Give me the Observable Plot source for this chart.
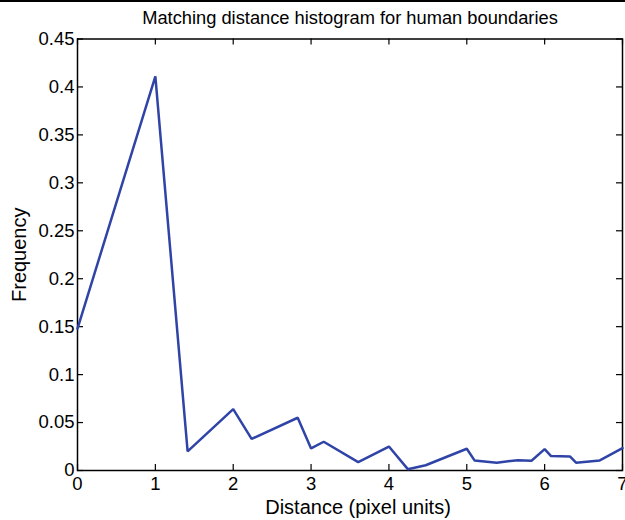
<!DOCTYPE html>
<html><head><meta charset="utf-8">
<script src="https://cdn.jsdelivr.net/npm/d3@7"></script>
<script src="https://cdn.jsdelivr.net/npm/@observablehq/plot@0.6"></script>
<style>
body{margin:0;background:#fff;}
#wrap{position:relative;width:625px;height:520px;}
#topline{position:absolute;left:0;top:0;width:625px;height:2px;background:#000;}
#wrap svg{position:absolute;left:0;top:0;}
</style></head><body><div id="wrap"><div id="topline"></div></div>
<script>
const distance = [0, 1, 1.4142, 2, 2.2361, 2.8284, 3, 3.1623, 3.6056, 4, 4.2426, 4.4721, 5, 5.0990, 5.3852, 5.6569, 5.8310, 6, 6.0828, 6.3246, 6.4031, 6.7082, 7];
const frequency = [0.148, 0.411, 0.020, 0.064, 0.033, 0.055, 0.023, 0.030, 0.0087, 0.025, 0.0014, 0.0055, 0.0227, 0.0105, 0.0081, 0.0108, 0.0102, 0.0223, 0.0150, 0.0147, 0.0081, 0.0105, 0.0233];
const xTicks = [0, 1, 2, 3, 4, 5, 6, 7];
const yTicks = [0, 0.05, 0.1, 0.15, 0.2, 0.25, 0.3, 0.35, 0.4, 0.45];
const yTickLabels = ["0", "0.05", "0.1", "0.15", "0.2", "0.25", "0.3", "0.35", "0.4", "0.45"];
const titleText = "Matching distance histogram for human boundaries";
const xLabel = "Distance (pixel units)";
const yLabel = "Frequency";

const data = distance.map((d, i) => ({distance: d, frequency: frequency[i]}));
const font = "'Liberation Sans', Arial, Helvetica, sans-serif";

const W = 625, H = 520, mL = 77, mR = 3, mT = 38.5, mB = 50, tick = 6;
const innerW = W - mL - mR, innerH = H - mT - mB;

const chart = Plot.plot({
  width: W,
  height: H,
  marginLeft: mL,
  marginRight: mR,
  marginTop: mT,
  marginBottom: mB,
  style: {fontFamily: font, fontSize: "18px", color: "#000", background: "transparent", overflow: "visible"},
  x: {domain: [0, 7]},
  y: {domain: [0, 0.45]},
  marks: [
    Plot.frame({stroke: "#000", strokeWidth: 1.5}),
    Plot.axisX({anchor: "bottom", ticks: xTicks, tickSize: 0, tickPadding: 6, label: null, fontSize: 18.5, tickFormat: d => String(d)}),
    Plot.axisY({anchor: "left", ticks: yTicks, tickSize: 0, tickPadding: 3, label: null, fontSize: 18.5, tickFormat: d => yTickLabels[yTicks.indexOf(d)]}),
    Plot.tickX(xTicks, {x: d => d, insetTop: innerH - tick, stroke: "#000", strokeWidth: 1.2}),
    Plot.tickX(xTicks, {x: d => d, insetBottom: innerH - tick, stroke: "#000", strokeWidth: 1.2}),
    Plot.tickY(yTicks, {y: d => d, insetRight: innerW - tick, stroke: "#000", strokeWidth: 1.2}),
    Plot.tickY(yTicks, {y: d => d, insetLeft: innerW - tick, stroke: "#000", strokeWidth: 1.2}),
    Plot.line(data, {x: "distance", y: "frequency", stroke: "#2f44a6", strokeWidth: 2.5, strokeLinejoin: "miter"}),
    Plot.text([titleText], {frameAnchor: "top", dy: -20.5, fontSize: 18.3, lineAnchor: "middle"}),
    Plot.text([xLabel], {frameAnchor: "bottom", dx: 8, dy: 37, fontSize: 20, lineAnchor: "middle"}),
    Plot.text([yLabel], {frameAnchor: "left", dx: -58, rotate: -90, textAnchor: "middle", fontSize: 20, lineAnchor: "middle"})
  ]
});
document.getElementById("wrap").appendChild(chart);
</script>
</body></html>
